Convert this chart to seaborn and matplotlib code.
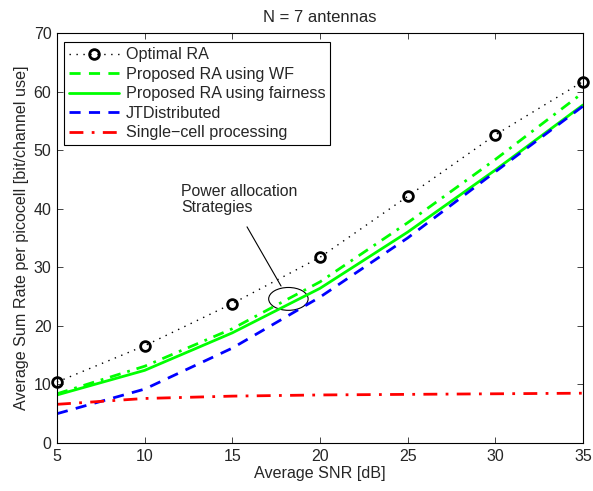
import matplotlib
matplotlib.use("Agg")
import matplotlib.pyplot as plt
import seaborn as sns
import pandas as pd
from matplotlib.lines import Line2D
from matplotlib.patches import Ellipse

snr = [5, 10, 15, 20, 25, 30, 35]
optimal_ra = [10.4, 16.6, 23.8, 31.7, 42.1, 52.6, 61.7]
proposed_wf = [8.4, 13.1, 19.5, 27.5, 37.6, 48.4, 59.8]
proposed_fair = [8.2, 12.4, 18.8, 26.4, 36.0, 46.6, 57.7]
jt_distributed = [5.0, 9.2, 16.2, 24.9, 35.0, 46.3, 57.5]
single_cell = [6.6, 7.6, 8.0, 8.2, 8.3, 8.4, 8.5]

labels = ["Optimal RA", "Proposed RA using WF", "Proposed RA using fairness",
          "JTDistributed", "Single\u2212cell processing"]

sns.set_style("ticks")
plt.rcParams['font.family'] = ['Liberation Sans', 'DejaVu Sans']
plt.rcParams['xtick.direction'] = 'in'
plt.rcParams['ytick.direction'] = 'in'

fig = plt.figure(figsize=(5.93, 4.91), dpi=100)
ax = fig.add_axes([0.0961, 0.0978, 0.983 - 0.0961, 0.9328 - 0.0978])

df = pd.DataFrame({"snr": snr, "opt": optimal_ra, "wf": proposed_wf,
                   "fair": proposed_fair, "jt": jt_distributed, "sc": single_cell})

sns.lineplot(data=df, x="snr", y="opt", ax=ax, color="black", lw=1.0,
             linestyle=(0, (1, 4)), marker="o", markersize=7, markerfacecolor="none",
             markeredgecolor="black", markeredgewidth=2, clip_on=False)
sns.lineplot(data=df, x="snr", y="wf", ax=ax, color=(0, 1, 0), lw=2,
             linestyle=(0, (4, 2.5, 1, 2.5)))
sns.lineplot(data=df, x="snr", y="fair", ax=ax, color=(0, 1, 0), lw=2, linestyle="-")
sns.lineplot(data=df, x="snr", y="jt", ax=ax, color=(0, 0, 1), lw=2, linestyle=(0, (4, 3)))
sns.lineplot(data=df, x="snr", y="sc", ax=ax, color=(1, 0, 0), lw=2,
             linestyle=(0, (5, 3, 1, 3)))

ax.set_xlim(5, 35)
ax.set_ylim(0, 70)
ax.set_xticks(range(5, 36, 5))
ax.set_yticks(range(0, 71, 10))
ax.tick_params(top=True, right=True, labelsize=11.5, length=4, width=0.6, pad=4)
for s in ax.spines.values():
    s.set_linewidth(0.8)
    s.set_color("black")

ax.set_xlabel("Average SNR [dB]", fontsize=11.6, labelpad=2)
ax.set_ylabel("Average Sum Rate per picocell [bit/channel use]", fontsize=11.6, labelpad=3)
ax.set_title("N = 7 antennas", fontsize=12, pad=8)

# annotation
ax.add_patch(Ellipse((18.2, 24.6), 2.25, 3.9, fill=False, edgecolor="black", lw=0.8))
ax.plot([15.84, 17.78], [36.9, 26.8], color="black", lw=0.8)
ax.text(12.1, 44.2, "Power allocation\nStrategies", fontsize=11.4, va="top", ha="left",
        linespacing=1.1)

handles = [
    Line2D([], [], color="black", lw=1.0, linestyle=(0, (1, 4)), marker="o", markersize=7,
           markerfacecolor="none", markeredgewidth=2),
    Line2D([], [], color=(0, 1, 0), lw=2, linestyle=(0, (4, 3))),
    Line2D([], [], color=(0, 1, 0), lw=2, linestyle="-"),
    Line2D([], [], color=(0, 0, 1), lw=2, linestyle=(0, (4, 3))),
    Line2D([], [], color=(1, 0, 0), lw=2, linestyle=(0, (5, 3, 1, 3))),
]
leg = ax.legend(handles, labels, loc="upper left", bbox_to_anchor=(0.008, 0.985),
                fontsize=11.6, frameon=True, fancybox=False, framealpha=1,
                edgecolor="black", handlelength=3.1, handletextpad=0.4,
                borderpad=0.3, labelspacing=0.28, borderaxespad=0.2)
leg.get_frame().set_linewidth(0.8)

fig.savefig("out.png", dpi=100)
